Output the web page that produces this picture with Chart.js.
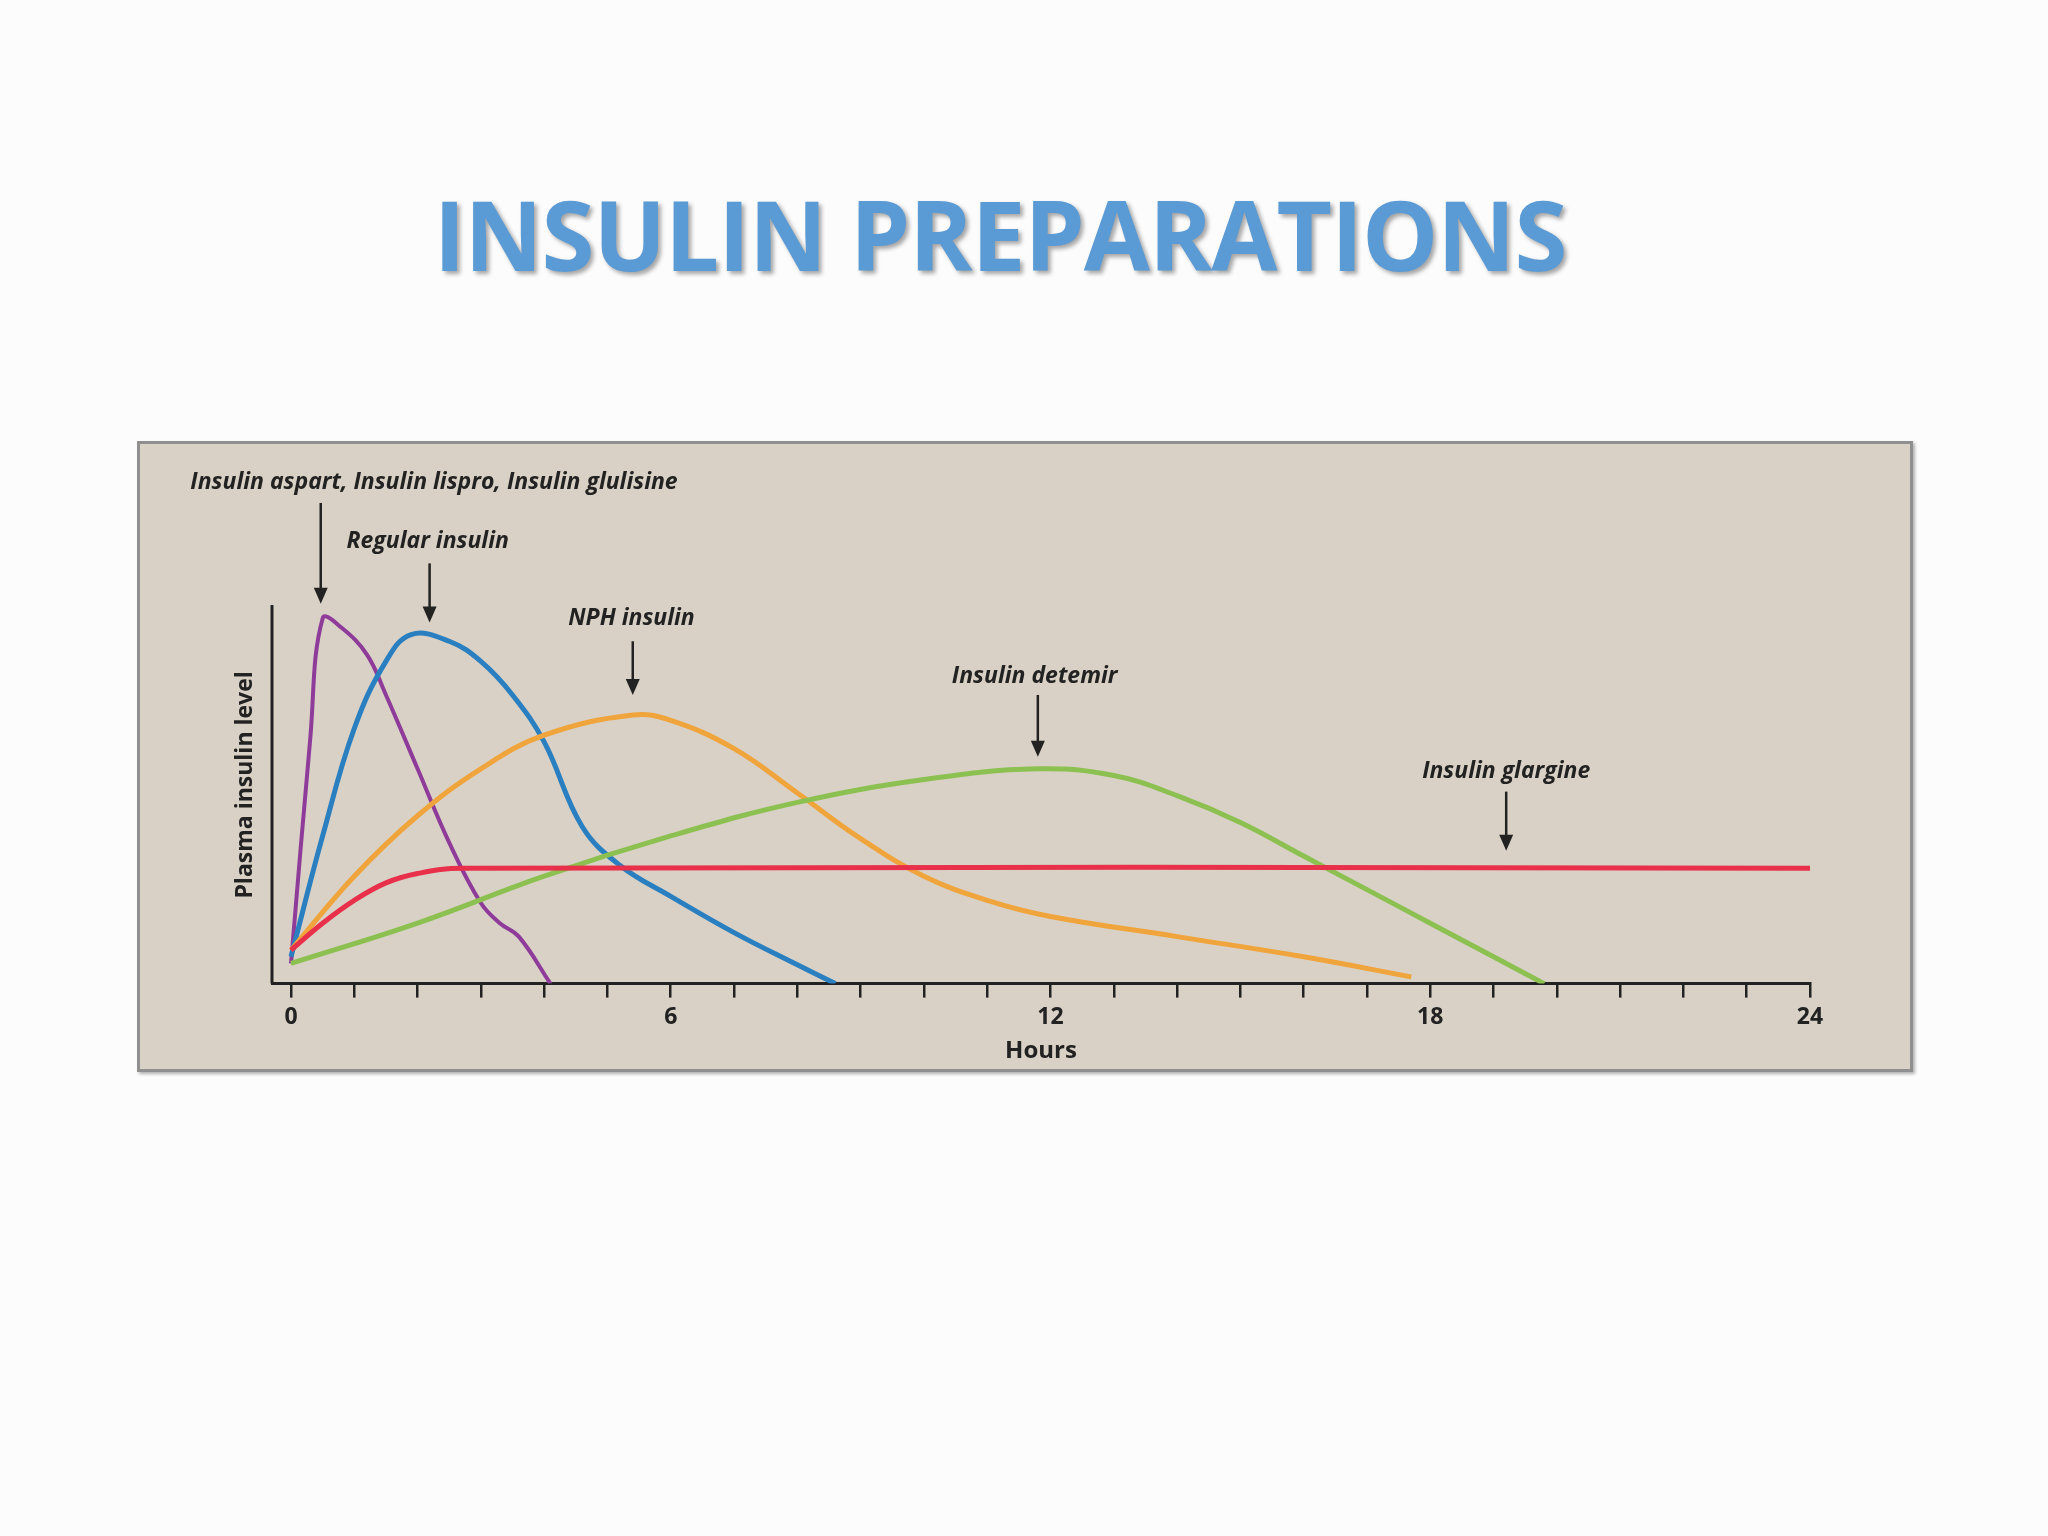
<!DOCTYPE html>
<html>
<head>
<meta charset="utf-8">
<script src="https://cdn.jsdelivr.net/npm/chart.js@4"></script>
<style>
  body { margin: 0; background: #fdfcfc; width: 2048px; height: 1536px; position: relative; overflow: hidden; }
  h1 { position: absolute; left: 0; width: 2000px; top: 168px; margin: 0; text-align: center;
       font: bold 96px "Open Sans", sans-serif; color: #5b9bd5; text-shadow: 3px 3px 4px rgba(0,0,0,0.35); letter-spacing: -1px; }
  #box { position: absolute; left: 137px; top: 441px; width: 1770px; height: 625px; background: #d9d1c5;
         border: 3px solid #8f8f8f; box-shadow: 2px 2px 3px rgba(0,0,0,0.3); }
  canvas { position: absolute; left: 0; top: 0; }
</style>
</head>
<body>
<h1>INSULIN PREPARATIONS</h1>
<div id="box"></div>
<canvas id="c" width="2048" height="1536"></canvas>
<script>
// hours / relative plasma level
const rapidX = [0, 0.3, 0.5, 0.8, 1.2, 1.5, 2, 2.5, 3, 3.3, 3.6, 4.1];
const rapidY = [15, 180, 272, 265, 245, 215, 160, 105, 60, 45, 35, 0];
const regularX = [0, 0.5, 1, 1.5, 1.9, 2.5, 3, 3.5, 4, 4.6, 5.2, 6, 7, 8, 8.6];
const regularY = [20, 110, 190, 240, 260, 255, 240, 215, 180, 117, 88, 65, 38, 14, 0];
const nphX = [0, 1, 2, 3, 4, 5.4, 6, 7, 8, 9, 10, 11, 12, 14, 16, 17.7];
const nphY = [25, 80, 125, 160, 185, 200, 196, 175, 142, 108, 80, 62, 50, 35, 20, 5];
const detemirX = [0, 2, 4, 6, 8, 10, 11.8, 13, 14, 15, 16, 17, 18, 19, 19.8];
const detemirY = [15, 45, 80, 110, 135, 152, 160, 155, 140, 120, 95, 70, 45, 20, 0];
const glargineX = [0, 0.5, 1, 1.5, 2, 2.7, 24];
const glargineY = [25, 45, 62, 75, 82, 86, 86];
const xTickLabels = ['0', '6', '12', '18', '24'];

const labels = [
  { text: 'Insulin aspart, Insulin lispro, Insulin glulisine', x: -1.59, y: 373, align: 'left', ax: 0.47, a0: 358, a1: 283 },
  { text: 'Regular insulin', x: 2.16, y: 329, align: 'center', ax: 2.19, a0: 313, a1: 269 },
  { text: 'NPH insulin', x: 5.38, y: 272, align: 'center', ax: 5.4, a0: 255, a1: 215 },
  { text: 'Insulin detemir', x: 11.75, y: 229, align: 'center', ax: 11.8, a0: 215, a1: 169 },
  { text: 'Insulin glargine', x: 19.2, y: 158, align: 'center', ax: 19.2, a0: 143, a1: 99 }
];

function pts(xs, ys) { return xs.map((x, i) => ({ x: x, y: ys[i] })); }

const annot = {
  id: 'annot',
  afterDraw(chart) {
    const c = chart.ctx, xs = chart.scales.x, ys = chart.scales.y;
    c.save();
    c.fillStyle = '#222'; c.strokeStyle = '#222';
    c.font = 'italic bold 23px "Open Sans", sans-serif';
    c.textBaseline = 'middle';
    labels.forEach(l => {
      c.textAlign = l.align;
      c.fillText(l.text, xs.getPixelForValue(l.x), ys.getPixelForValue(l.y));
      const ax = xs.getPixelForValue(l.ax), y0 = ys.getPixelForValue(l.a0), y1 = ys.getPixelForValue(l.a1);
      c.lineWidth = 2.5;
      c.beginPath(); c.moveTo(ax, y0); c.lineTo(ax, y1 - 12); c.stroke();
      c.beginPath(); c.moveTo(ax - 7, y1 - 16); c.lineTo(ax + 7, y1 - 16); c.lineTo(ax, y1); c.closePath(); c.fill();
    });
    // y axis line
    const x0 = xs.getPixelForValue(-0.3);
    c.lineWidth = 3;
    c.beginPath(); c.moveTo(x0, ys.getPixelForValue(282)); c.lineTo(x0, ys.getPixelForValue(0)); c.stroke();
    // y axis title
    c.translate(xs.getPixelForValue(-0.72), ys.getPixelForValue(148));
    c.rotate(-Math.PI / 2);
    c.textAlign = 'center';
    c.font = 'bold 23px "Open Sans", sans-serif';
    c.fillText('Plasma insulin level', 0, 0);
    c.restore();
  }
};

const ds = (label, data, color, w) => ({ label, data, borderColor: color, borderWidth: w, pointRadius: 0, tension: 0.4, fill: false });

new Chart(document.getElementById('c'), {
  type: 'line',
  data: {
    datasets: [
      ds('Insulin glargine', pts(glargineX, glargineY), '#e8304a', 5),
      ds('Insulin detemir', pts(detemirX, detemirY), '#8cc152', 5),
      ds('NPH insulin', pts(nphX, nphY), '#f0a43c', 5),
      ds('Regular insulin', pts(regularX, regularY), '#2a7fc0', 5),
      ds('Insulin aspart', pts(rapidX, rapidY), '#8e3b9a', 4)
    ]
  },
  options: {
    responsive: false,
    animation: false,
    layout: { padding: { left: 272, right: 238, top: 605, bottom: 470 } },
    plugins: { legend: { display: false }, tooltip: { enabled: false } },
    scales: {
      x: {
        type: 'linear', min: -0.3, max: 24,
        afterBuildTicks: s => { s.ticks = Array.from({ length: 25 }, (_, i) => ({ value: i })); },
        ticks: {
          autoSkip: false, maxRotation: 0, color: '#222', padding: 6,
          font: { family: '"Open Sans", sans-serif', size: 23, weight: 'bold' },
          callback: v => (v % 6 === 0 ? xTickLabels[v / 6] : '')
        },
        grid: { drawOnChartArea: false, drawTicks: true, tickLength: 14, color: '#222', lineWidth: 2.5 },
        border: { color: '#222', width: 3 },
        title: { display: true, text: 'Hours', color: '#222', padding: 0,
                 font: { family: '"Open Sans", sans-serif', size: 24, weight: 'bold' } }
      },
      y: { display: false, min: 0, max: 282 }
    }
  },
  plugins: [annot]
});
</script>
</body>
</html>
